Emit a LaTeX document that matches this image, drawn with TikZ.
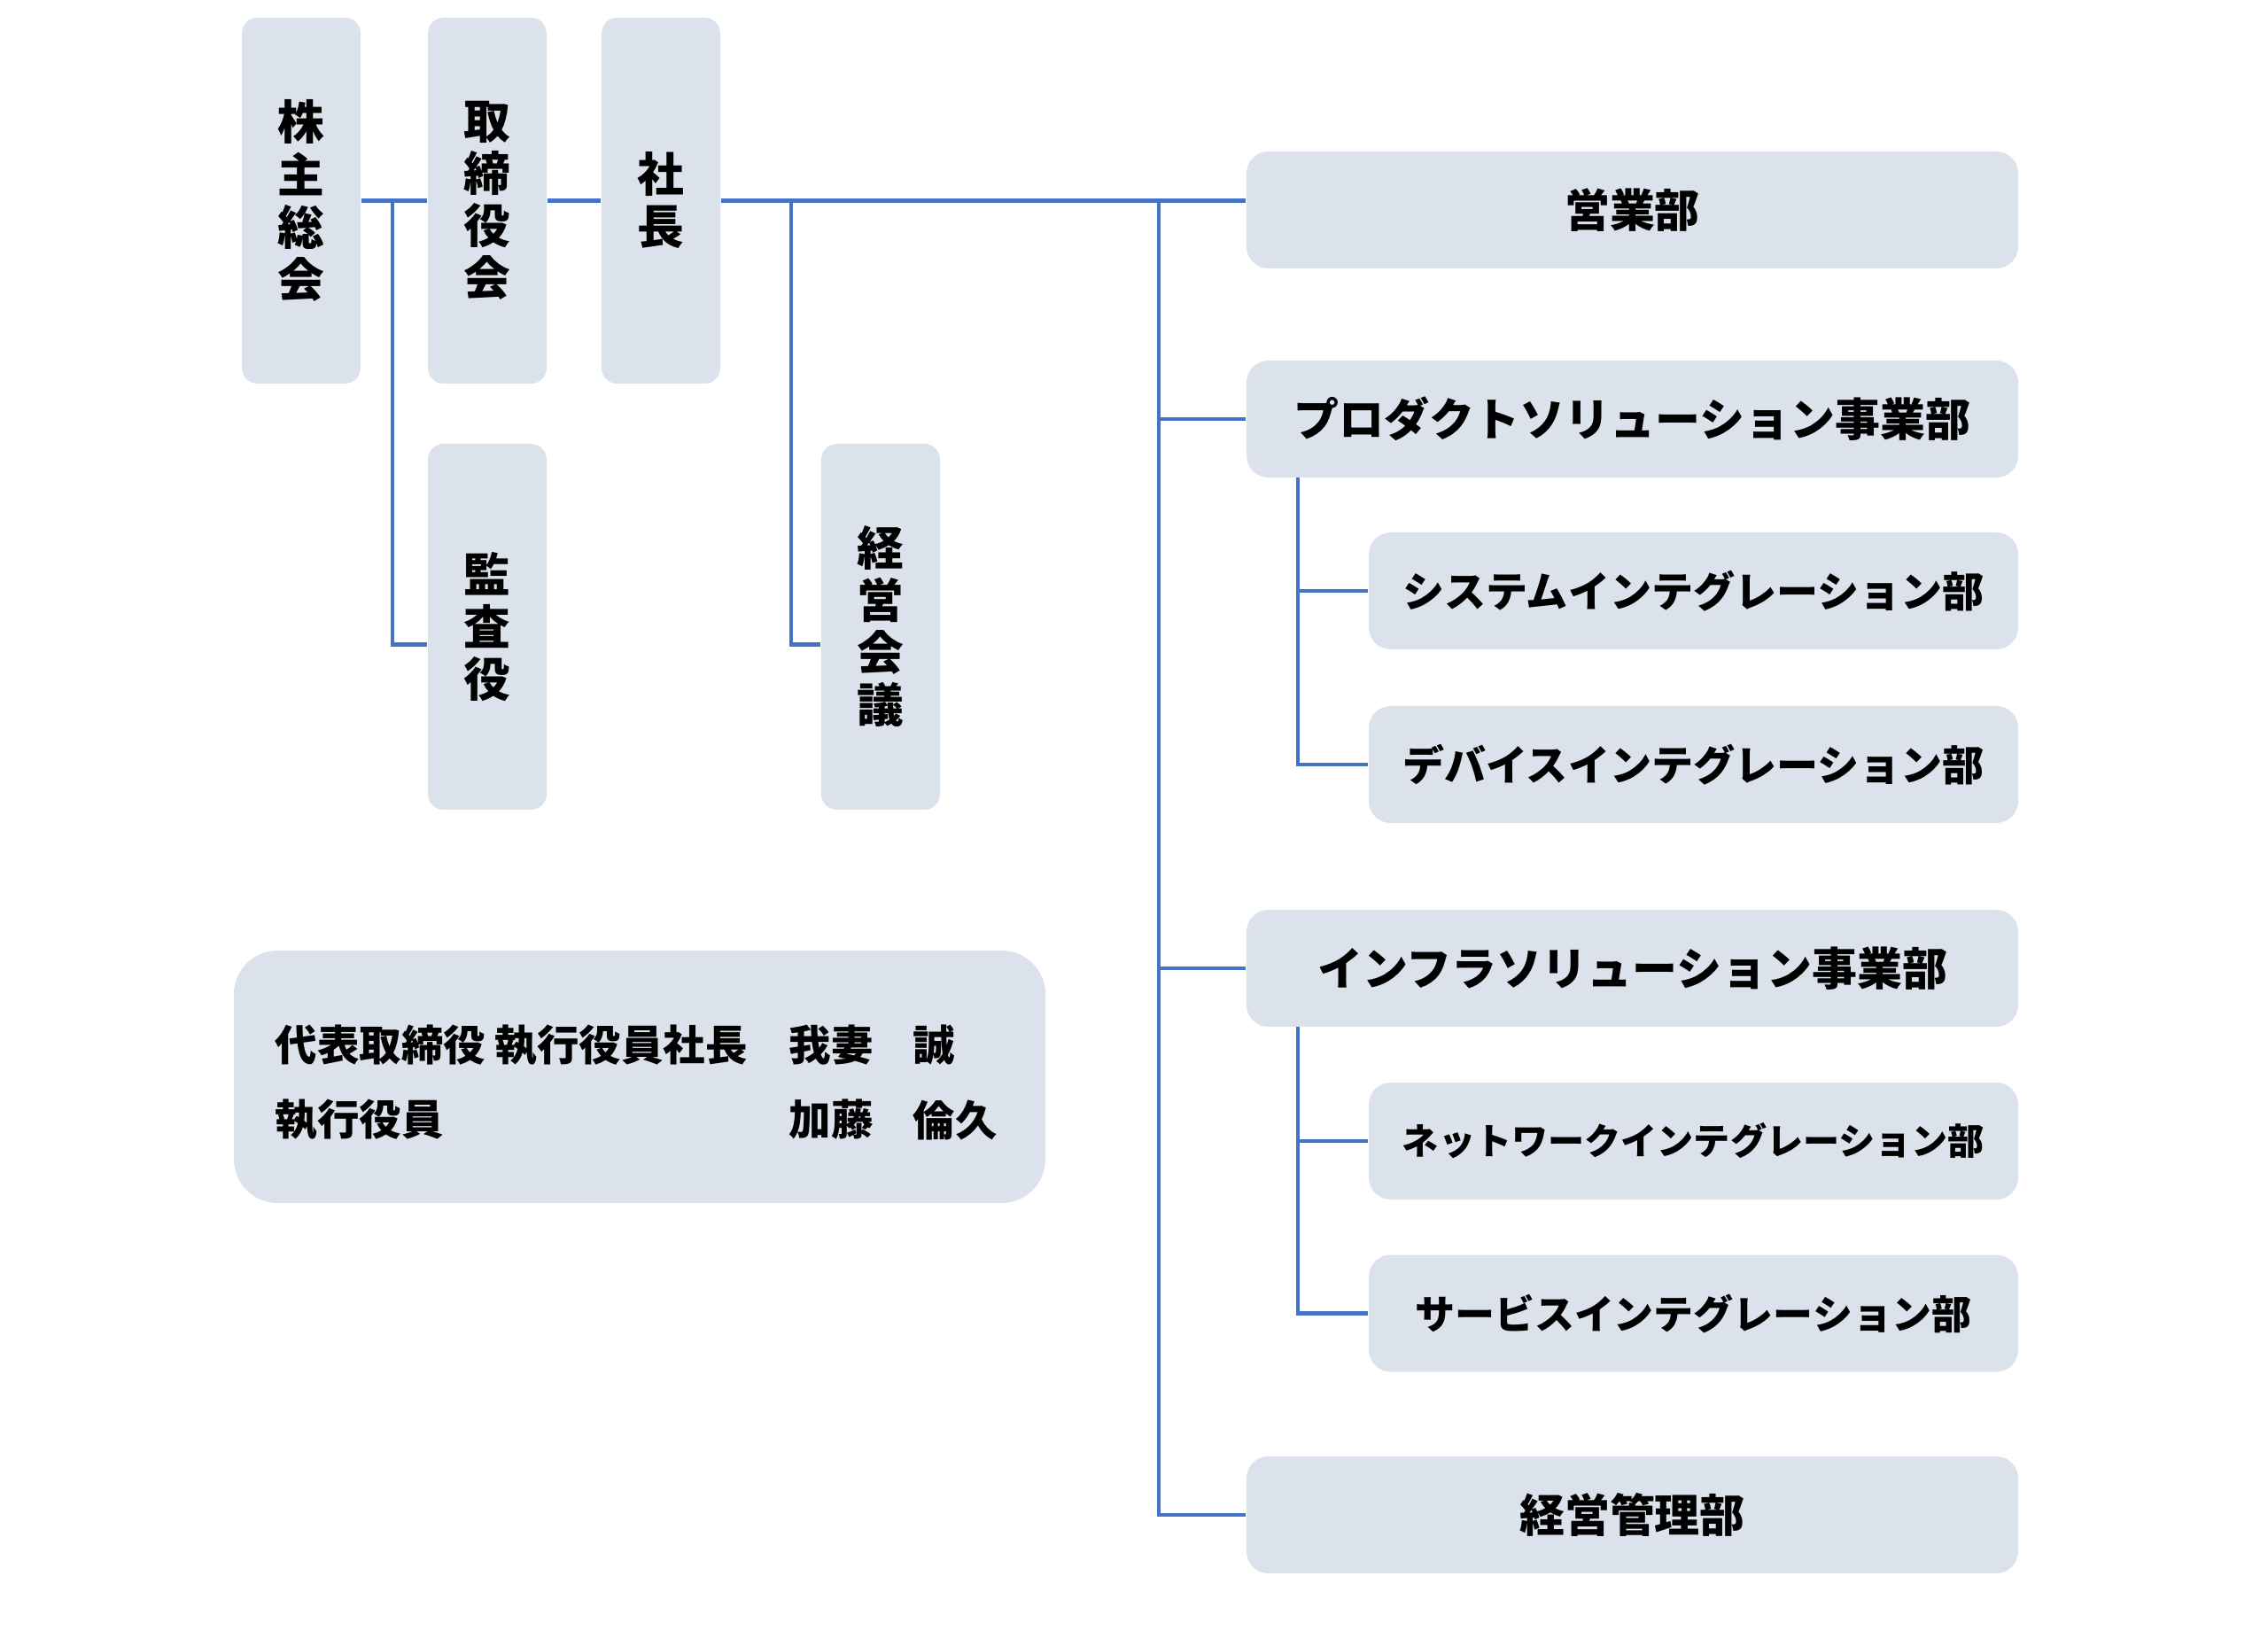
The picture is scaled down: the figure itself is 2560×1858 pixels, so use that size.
\documentclass[tikz,border=0pt]{standalone}
\usepackage{fontspec}
\setmainfont{Noto Sans CJK JP}
\definecolor{boxgray}{RGB}{220,226,236}
\definecolor{lineblue}{RGB}{68,114,196}
\usetikzlibrary{positioning,calc}

\begin{document}
\begin{tikzpicture}[x=0.1mm, y=-0.1mm,
    orgbox/.style={fill=boxgray, rounded corners=7pt, inner sep=0pt, align=center,
      font=\bfseries\fontsize{14.5}{17}\selectfont},
    tallbox/.style={orgbox, rounded corners=5pt, minimum width=13.4mm, minimum height=41.3mm,
      font=\bfseries\fontsize{15}{16.8}\selectfont},
    deptbox/.style={orgbox, minimum width=87.1mm, minimum height=13.2mm},
    subbox/.style={orgbox, minimum width=73.3mm, minimum height=13.2mm},
    link/.style={draw=lineblue, line width=1.2pt},
    memo/.style={anchor=west, inner sep=0pt, font=\bfseries\fontsize{13.5}{16}\selectfont}]
    \useasboundingbox (0,0) rectangle (2560,1858);

    % Top management
    \node[tallbox] (kabunushi) at (340,226.5) {株\\主\\総\\会};
    \node[tallbox] (torishimari) at (550,226.5) {取\\締\\役\\会};
    \node[tallbox] (shacho) at (746,226.5) {社\\長};
    \node[tallbox] (kansa) at (550,707.5) {監\\査\\役};
    \node[tallbox] (keieikaigi) at (994,707.5) {経\\営\\会\\議};

    % Departments
    \node[deptbox] (eigyo) at (1842.5,237) {営業部};
    \node[deptbox] (product) at (1842.5,473) {プロダクトソリューション事業部};
    \node[subbox, font=\bfseries\fontsize{13.4}{16}\selectfont] (sysint) at (1911.5,667) {システムインテグレーション部};
    \node[subbox, font=\bfseries\fontsize{13.4}{16}\selectfont] (devint) at (1911.5,863) {デバイスインテグレーション部};
    \node[deptbox] (infra) at (1842.5,1093) {インフラソリューション事業部};
    \node[subbox, font=\bfseries\fontsize{11.7}{14}\selectfont] (netint) at (1911.5,1288) {ネットワークインテグレーション部};
    \node[subbox, font=\bfseries\fontsize{12.8}{15}\selectfont] (servint) at (1911.5,1482.5) {サービスインテグレーション部};
    \node[deptbox] (keieikanri) at (1842.5,1710) {経営管理部};

    % Officers
    \node[fill=boxgray, rounded corners=14pt, minimum width=91.6mm, minimum height=28.5mm] (officers) at (722,1215.5) {};
    \node[memo] (title1) at (310,1180) {代表取締役 執行役員社長};
    \node[memo] (sei1) at (890,1180) {我妻};
    \node[memo] (mei1) at (1030,1180) {誠};
    \node[memo] (title2) at (310,1264) {執行役員};
    \node[memo] (sei2) at (890,1264) {加藤};
    \node[memo] (mei2) at (1030,1264) {倫久};

    % Junctions
    \coordinate (kj) at (443,226.5);
    \coordinate (sj) at (893,226.5);
    \coordinate (trunk) at (1308,226.5);
    \coordinate (pj) at (1465,539);
    \coordinate (ij) at (1465,1159);

    % Lines
    \draw[link] (kabunushi) -- (torishimari);
    \draw[link] (torishimari) -- (shacho);
    \draw[link] (shacho) -- (eigyo.west |- shacho);
    \draw[link] (kj) |- ($(kansa.west)+(0,20)$);
    \draw[link] (sj) |- ($(keieikaigi.west)+(0,20)$);
    \draw[link] (trunk) |- (keieikanri.west);
    \draw[link] (trunk |- product.west) -- (product.west);
    \draw[link] (trunk |- infra.west) -- (infra.west);
    \draw[link] (pj) |- (devint.west);
    \draw[link] (pj |- sysint.west) -- (sysint.west);
    \draw[link] (ij) |- (servint.west);
    \draw[link] (ij |- netint.west) -- (netint.west);
\end{tikzpicture}
\end{document}
